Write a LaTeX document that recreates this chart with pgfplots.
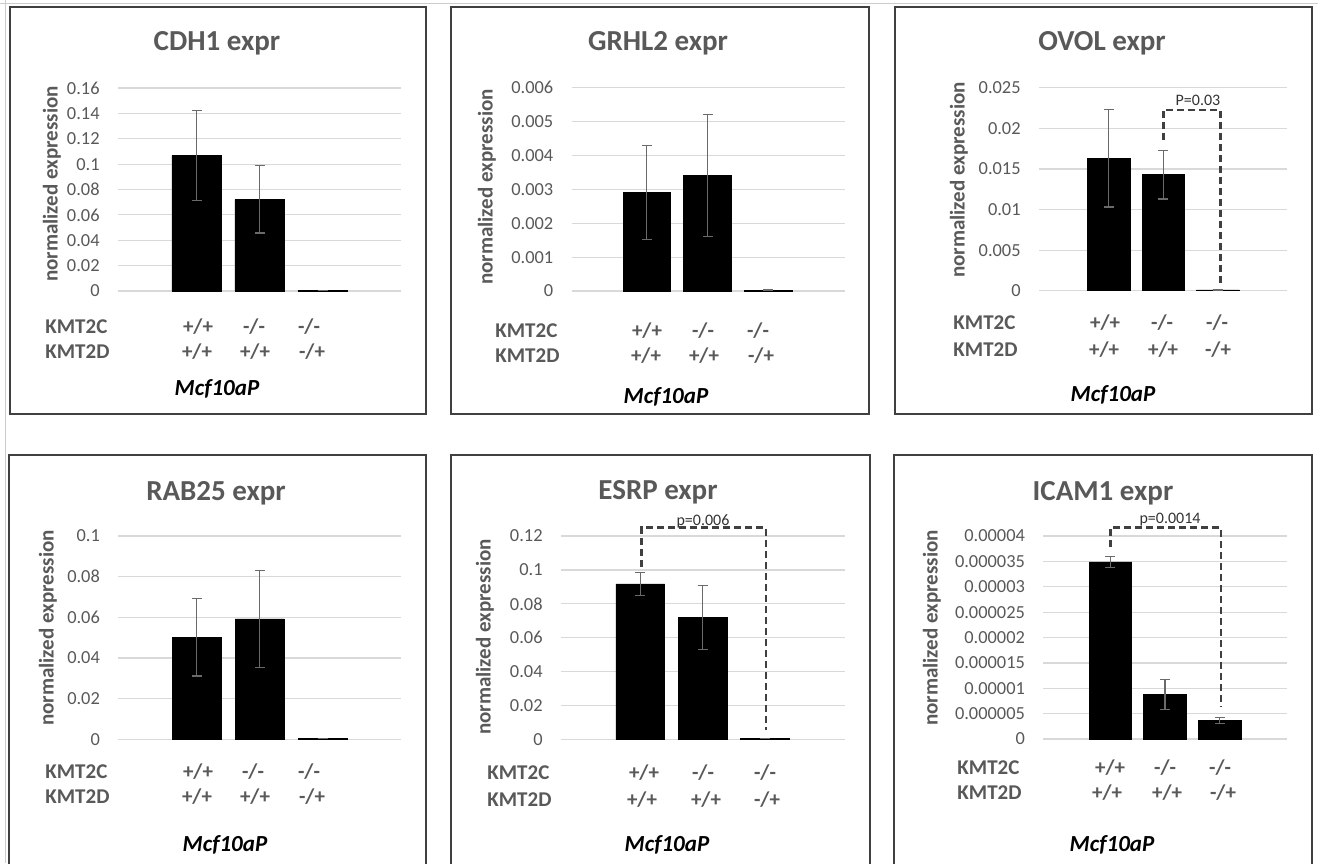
\documentclass[border=0pt]{standalone}
\usepackage{pgfplots}
\pgfplotsset{compat=1.18}
\usepackage{fontspec}
\setmainfont{Carlito}
\definecolor{txtgray}{HTML}{595959}
\definecolor{gridc}{HTML}{D9D9D9}
\definecolor{errc}{HTML}{6A6A6A}
\definecolor{boxc}{HTML}{404040}
\def\U{0.5bp}
\newcommand\fTitle{\fontsize{14.5bp}{16bp}\selectfont\bfseries}
\newcommand\fTick{\fontsize{9.2bp}{11bp}\selectfont}
\newcommand\fLab{\fontsize{10.5bp}{12bp}\selectfont\bfseries}
\newcommand\fMcf{\fontsize{11.5bp}{13bp}\selectfont\bfseries\itshape}
\newcommand\fP{\fontsize{8bp}{9bp}\selectfont}
\pgfplotsset{
  panel/.style={
    scale only axis, anchor=south west, clip=false,
    ymin=0, xtick=\empty, scaled y ticks=false,
    axis line style={draw=none},
    ymajorgrids, grid style={gridc, line width=0.6bp},
    major tick length=0pt,
    yticklabel style={font=\fTick, text=txtgray, inner sep=0pt, xshift=-9bp, anchor=east},
  },
  bars/.style={
    ybar, bar width=0.78, bar shift=0pt, fill=black, draw=black, line width=0.4bp,
    error bars/.cd, y dir=both, y explicit,
    error bar style={errc, line width=0.6bp},
    error mark options={errc, mark size=2.5bp, line width=0.6bp, rotate=90},
  },
  bracket/.style={boxc, line width=1.2bp, dash pattern=on 3.5bp off 2bp, mark=none},
}
% text node helpers (pixel coordinates of the 1318x863 reference)
\newcommand\Ttl[3]{\node[font=\fTitle, text=txtgray, anchor=center] at (#1*\U,-#2*\U) {#3};}
\newcommand\YL[2]{\node[font=\fLab, text=txtgray, rotate=90, anchor=center] at (#1*\U,-#2*\U) {normalized expression};}
\newcommand\Gl[3]{\node[font=\fLab, text=txtgray, anchor=center] at (#1*\U,-#2*\U) {#3};}
\newcommand\Kl[3]{\node[font=\fLab, text=txtgray, anchor=west, inner sep=0pt] at (#1*\U,-#2*\U) {#3};}
\newcommand\Mc[2]{\node[font=\fMcf, text=black, anchor=center] at (#1*\U,-#2*\U) {Mcf10aP};}
\newcommand\Pv[3]{\node[font=\fP, text=black!80, anchor=center, inner sep=0pt] at (#1*\U,-#2*\U) {#3};}
\newcommand\Geno[9]{% x1 x2 x3 (row1) y1, x1 x2 x3 (row2) y2, KMT x
  \Gl{#1}{#4}{+/+}\Gl{#2}{#4}{-/-}\Gl{#3}{#4}{-/-}%
  \Gl{#5}{#8}{+/+}\Gl{#6}{#8}{+/+}\Gl{#7}{#8}{-/+}%
  \Kl{#9}{#4}{KMT2C}\Kl{#9}{#8}{KMT2D}}
\begin{document}
\begin{tikzpicture}
\useasboundingbox (0,0) rectangle (1318*\U,-863*\U);
\fill[white] (0,0) rectangle (1318*\U,-863*\U);
% faint outer frame
\draw[gray!40, line width=0.5bp] (0,-3*\U) -- (1318*\U,-3*\U);
\draw[gray!40, line width=0.5bp] (5*\U,0) -- (5*\U,-863*\U);
% panel boxes
\draw[boxc, line width=1bp] (9.5*\U,-7*\U) rectangle (426*\U,-414*\U);
\draw[boxc, line width=1bp] (451*\U,-7*\U) rectangle (869*\U,-414*\U);
\draw[boxc, line width=1bp] (895*\U,-7*\U) rectangle (1312*\U,-414*\U);
\draw[boxc, line width=1bp] (8.5*\U,-455*\U) rectangle (426*\U,-880*\U);
\draw[boxc, line width=1bp] (451*\U,-455*\U) rectangle (870*\U,-880*\U);
\draw[boxc, line width=1bp] (894*\U,-455*\U) rectangle (1312*\U,-880*\U);

% ---------- CDH1 ----------
\begin{axis}[panel, at={(59bp,-145.5bp)}, width=141.5bp, height=101.5bp,
  xmin=-1.246, xmax=3.246, ymax=0.16,
  ytick={0,0.02,0.04,0.06,0.08,0.1,0.12,0.14,0.16},
  yticklabels={0,0.02,0.04,0.06,0.08,0.1,0.12,0.14,0.16}]
\addplot[bars] coordinates {(0,0.107) +- (0,0.0355) (1,0.0723) +- (0,0.0265) (2,0.0006) +- (0,0)};
\end{axis}
% ---------- GRHL2 ----------
\begin{axis}[panel, at={(285.85bp,-145.5bp)}, width=136.65bp, height=101.65bp,
  xmin=-1.237, xmax=3.265, ymax=0.006,
  ytick={0,0.001,0.002,0.003,0.004,0.005,0.006},
  yticklabels={0,0.001,0.002,0.003,0.004,0.005,0.006}]
\addplot[bars] coordinates {(0,0.00291) +- (0,0.00139) (1,0.00342) +- (0,0.0018) (2,0.00003) +- (0,0)};
\end{axis}
% ---------- OVOL ----------
\begin{axis}[panel, at={(519.5bp,-145.35bp)}, width=124bp, height=101.5bp,
  xmin=-1.28, xmax=3.27, ymax=0.025,
  ytick={0,0.005,0.01,0.015,0.02,0.025},
  yticklabels={0,0.005,0.01,0.015,0.02,0.025}]
\addplot[bars] coordinates {(0,0.0163) +- (0,0.006) (1,0.0143) +- (0,0.003) (2,0.0001) +- (0,0)};
\addplot[bracket] coordinates {(1,0.01856) (1,0.02225) (2.05,0.02225) (2.05,0.0007)};
\end{axis}
% ---------- RAB25 ----------
\begin{axis}[panel, at={(59.15bp,-369.65bp)}, width=141.35bp, height=101.65bp,
  xmin=-1.246, xmax=3.246, ymax=0.1,
  ytick={0,0.02,0.04,0.06,0.08,0.1},
  yticklabels={0,0.02,0.04,0.06,0.08,0.1}]
\addplot[bars] coordinates {(0,0.0502) +- (0,0.019) (1,0.0592) +- (0,0.0239) (2,0.0004) +- (0,0)};
\end{axis}
% ---------- ESRP ----------
\begin{axis}[panel, at={(280.5bp,-369.65bp)}, width=142bp, height=101.65bp,
  xmin=-1.27, xmax=3.28, ymax=0.12,
  ytick={0,0.02,0.04,0.06,0.08,0.1,0.12},
  yticklabels={0,0.02,0.04,0.06,0.08,0.1,0.12}]
\addplot[bars] coordinates {(0,0.0917) +- (0,0.0066) (1,0.0718) +- (0,0.019) (2,0.0005) +- (0,0)};
\addplot[bracket] coordinates {(0.02,0.1019) (0.02,0.1251) (2.01,0.1251) (2.01,0.0055)};
\end{axis}
% ---------- ICAM1 ----------
\begin{axis}[panel, at={(521.65bp,-369.5bp)}, width=122bp, height=101.5bp,
  xmin=-1.23, xmax=3.24, ymax=0.00004,
  ytick={0,0.000005,0.00001,0.000015,0.00002,0.000025,0.00003,0.000035,0.00004},
  yticklabels={0,0.000005,0.00001,0.000015,0.00002,0.000025,0.00003,0.000035,0.00004}]
\addplot[bars] coordinates {(0,0.0000349) +- (0,0.0000011) (1,0.0000088) +- (0,0.000003) (2,0.0000036) +- (0,0.0000006)};
\addplot[bracket] coordinates {(0,0.0000379) (0,0.0000417) (2.02,0.0000417) (2.02,0.0000064)};
\end{axis}

% ---------- texts ----------
\Ttl{217}{43}{CDH1 expr}
\Ttl{658}{43}{GRHL2 expr}
\Ttl{1102}{43}{OVOL expr}
\Ttl{216}{493}{RAB25 expr}
\Ttl{658}{492}{ESRP expr}
\Ttl{1103}{493}{ICAM1 expr}

\YL{52}{184}
\YL{487}{187}
\YL{959}{180}
\YL{48}{628}
\YL{485}{637}
\YL{932}{628}

\Geno{198}{254}{309}{327}{197}{255}{312}{352}{45}
\Geno{647}{703}{758}{331}{646}{704}{761}{356}{495}
\Geno{1105}{1162}{1217}{323}{1104}{1163}{1218}{350}{953}
\Geno{198}{253}{309}{772}{197}{255}{312}{797}{45}
\Geno{644}{703}{765}{773}{642}{706}{767}{800}{487}
\Geno{1110}{1165}{1220}{768}{1107}{1167}{1223}{793}{957}

\Mc{217}{389}
\Mc{666}{397}
\Mc{1113}{395}
\Mc{225}{845}
\Mc{667}{845}
\Mc{1112}{845}

\Pv{1198}{100}{P=0.03}
\Pv{703}{521}{p=0.006}
\Pv{1170}{520}{p=0.0014}
\end{tikzpicture}
\end{document}
